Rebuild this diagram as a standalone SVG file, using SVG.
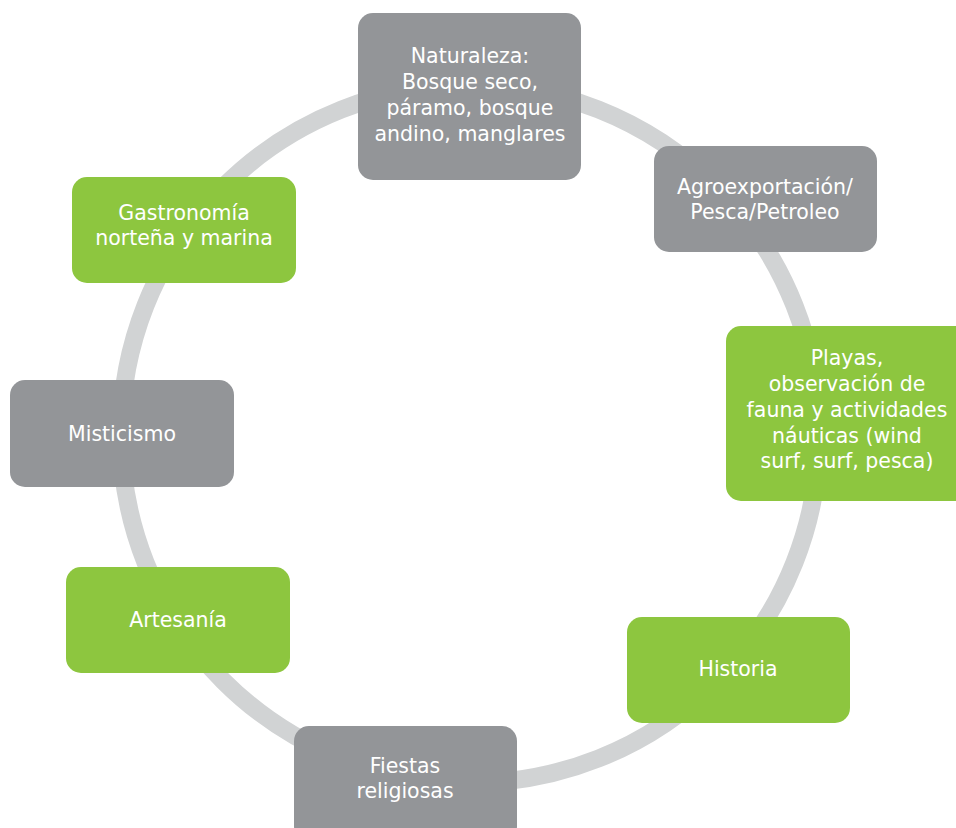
<svg xmlns="http://www.w3.org/2000/svg" width="956" height="828" viewBox="0 0 956 828">
<style>
.g{fill:#939598}
.v{fill:#8dc63f}
.t{fill:#ffffff;font-family:"DejaVu Sans","Liberation Sans",sans-serif;font-size:20.5px;text-anchor:middle}
</style>
<rect width="956" height="828" fill="#ffffff"/>
<g id="connectors">
<circle cx="470" cy="434" r="349" fill="none" stroke="#d1d3d4" stroke-width="18"/>
</g>
<g id="naturaleza">
<rect class="g" x="358" y="13" width="223" height="167" rx="15"/>
<text class="t" x="470" y="63">Naturaleza:</text>
<text class="t" x="470" y="89">Bosque seco,</text>
<text class="t" x="470" y="115">páramo, bosque</text>
<text class="t" x="470" y="141">andino, manglares</text>
</g>
<g id="agroexportacion">
<rect class="g" x="654" y="146" width="223" height="106" rx="15"/>
<text class="t" x="765" y="194">Agroexportación/</text>
<text class="t" x="765" y="219">Pesca/Petroleo</text>
</g>
<g id="playas">
<rect class="v" x="726" y="326" width="250" height="175" rx="15"/>
<text class="t" x="847" y="365">Playas,</text>
<text class="t" x="847" y="391">observación de</text>
<text class="t" x="847" y="417">fauna y actividades</text>
<text class="t" x="847" y="443">náuticas (wind</text>
<text class="t" x="847" y="468">surf, surf, pesca)</text>
</g>
<g id="historia">
<rect class="v" x="627" y="617" width="223" height="106" rx="15"/>
<text class="t" x="738" y="676">Historia</text>
</g>
<g id="fiestas">
<rect class="g" x="294" y="726" width="223" height="115" rx="15"/>
<text class="t" x="405" y="773">Fiestas</text>
<text class="t" x="405" y="798">religiosas</text>
</g>
<g id="artesania">
<rect class="v" x="66" y="567" width="224" height="106" rx="15"/>
<text class="t" x="178" y="627">Artesanía</text>
</g>
<g id="misticismo">
<rect class="g" x="10" y="380" width="224" height="107" rx="15"/>
<text class="t" x="122" y="441">Misticismo</text>
</g>
<g id="gastronomia">
<rect class="v" x="72" y="177" width="224" height="106" rx="15"/>
<text class="t" x="184" y="220">Gastronomía</text>
<text class="t" x="184" y="245">norteña y marina</text>
</g>
</svg>
